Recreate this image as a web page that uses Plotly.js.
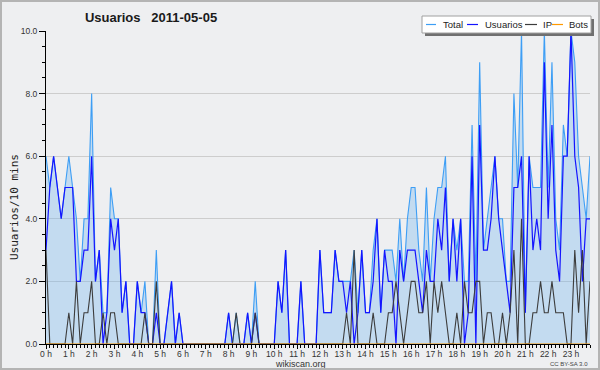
<!DOCTYPE html>
<html><head><meta charset="utf-8">
<script src="https://cdn.plot.ly/plotly-3.0.1.min.js"></script>
<style>
html,body{margin:0;padding:0;background:#eeeff1;}
#wrap{position:relative;width:600px;height:370px;}
#chart{width:600px;height:370px;}
#frame{position:absolute;left:0;top:0;width:600px;height:370px;box-sizing:border-box;border:2px solid #b4b4b4;pointer-events:none;}
</style></head><body>
<div id="wrap"><div id="chart"></div><div id="frame"></div></div>
<script>
// 10-minute slots over the day (index 0..143)
const usuarios = [
  3,5,6,5,4,5,5,5,2,2,3,3,
  6,2,3,0,1,4,3,4,1,2,0,0,
  2,1,1,0,0,1,0,0,1,2,0,1,
  0,0,0,0,0,0,0,0,0,0,0,0,
  1,0,0,0,0,1,0,1,0,0,0,0,
  0,2,1,3,0,0,0,2,0,0,0,0,
  3,1,1,1,3,2,2,1,2,0,1,3,
  1,1,2,4,1,3,2,2,0,3,2,3,
  3,3,2,1,3,2,2,4,3,5,2,4,
  2,4,0,1,6,0,7,3,3,4,6,4,
  3,2,1,5,5,6,1,6,3,4,3,9,
  4,7,3,2,6,6,10,6,5,2,4,4
];
const ip = [
  3,0,0,0,0,0,1,0,2,0,1,1,
  2,0,0,1,0,1,1,0,0,0,0,0,
  0,0,1,0,0,2,0,0,0,0,0,0,
  0,0,0,0,0,0,0,0,0,0,0,0,
  0,0,1,0,0,0,0,1,0,0,0,0,
  0,0,0,0,0,0,0,0,0,0,0,0,
  0,0,0,0,0,0,0,1,0,3,0,0,
  0,0,1,0,0,0,1,1,2,1,0,1,
  2,2,1,1,2,0,2,1,2,1,0,0,
  1,0,2,1,1,2,2,0,1,1,0,0,
  1,0,1,3,0,4,0,0,1,1,2,1,
  1,2,1,1,1,0,0,3,1,3,0,2
];
const total = [
  6,5,6,5,4,5,6,5,4,2,4,4,
  8,2,3,1,1,5,4,4,1,2,0,0,
  2,1,2,0,0,3,0,0,1,2,0,1,
  0,0,0,0,0,0,0,0,0,0,0,0,
  1,0,1,0,0,1,0,2,0,0,0,0,
  0,2,1,3,0,0,0,2,0,0,0,0,
  3,1,1,1,3,2,2,2,2,3,1,3,
  1,1,3,4,1,3,3,3,2,4,2,4,
  5,5,3,2,5,2,4,5,5,6,2,4,
  3,4,2,2,7,2,9,3,4,5,6,4,
  4,2,2,8,5,10,1,6,5,5,5,10,
  5,9,4,3,7,6,10,9,6,5,4,6
];
const bots = [
  0,0,0,0,0,0,0,0,0,0,0,0, 0,0,0,0,0,0,0,0,0,0,0,0,
  0,0,0,0,0,0,0,0,0,0,0,0, 0,0,0,0,0,0,0,0,0,0,0,0,
  0,0,0,0,0,0,0,0,0,0,0,0, 0,0,0,0,0,0,0,0,0,0,0,0,
  0,0,0,0,0,0,0,0,0,0,0,0, 0,0,0,0,0,0,0,0,0,0,0,0,
  0,0,0,0,0,0,0,0,0,0,0,0, 0,0,0,0,0,0,0,0,0,0,0,0,
  0,0,0,0,0,0,0,0,0,0,0,0, 0,0,0,0,0,0,0,0,0,0,0,0
];
const hourVals = [0,1,2,3,4,5,6,7,8,9,10,11,12,13,14,15,16,17,18,19,20,21,22,23];
const hourLabels = ["0 h","1 h","2 h","3 h","4 h","5 h","6 h","7 h","8 h","9 h","10 h","11 h",
  "12 h","13 h","14 h","15 h","16 h","17 h","18 h","19 h","20 h","21 h","22 h","23 h"];
const seriesNames = ["Total","Usuarios","IP","Bots"];
const seriesColors = ["#3d9ef5","#1414ff","#3c3c3c","#ff9900"];

const slotsPerHour = 6;
const hours = usuarios.map((_, i) => i / slotsPerHour);

// pixel -> paper helpers for decorations
const PL = 46, PR = 590, PT = 31, PB = 344;
const px = x => (x - PL) / (PR - PL);
const py = y => (PB - y) / (PB - PT);

const traces = [
  {x: hours, y: total, name: seriesNames[0], type: 'scatter', mode: 'lines',
   line: {color: seriesColors[0], width: 1.1}, fill: 'tozeroy', fillcolor: 'rgba(105,176,238,0.32)'},
  {x: hours, y: usuarios, name: seriesNames[1], type: 'scatter', mode: 'lines',
   line: {color: seriesColors[1], width: 1.2}},
  {x: hours, y: ip, name: seriesNames[2], type: 'scatter', mode: 'lines',
   line: {color: seriesColors[2], width: 1.1}},
  {x: hours, y: bots, name: seriesNames[3], type: 'scatter', mode: 'lines',
   line: {color: seriesColors[3], width: 1.1}}
];

const legendLines = [[426,436],[467,478],[525,537],[552,563]];
const legendTextX = [441,483,541,567];
const shapes = [
  {type:'rect', xref:'paper', yref:'paper', x0:px(425), x1:px(594), y0:py(36), y1:py(19),
   fillcolor:'#707070', line:{width:0}},
  {type:'rect', xref:'paper', yref:'paper', x0:px(422), x1:px(591), y0:py(33), y1:py(16),
   fillcolor:'#ffffff', line:{color:'#a0a0a0', width:1}}
];
const annotations = [
  {text:'Usuarios/10 mins', xref:'paper', yref:'paper', x:px(14), y:py(207), textangle:-90,
   showarrow:false, xanchor:'center', yanchor:'middle',
   font:{family:'DejaVu Sans Mono, monospace', size:11, color:'#222'}},
  {text:'wikiscan.org', xref:'paper', yref:'paper', x:px(300), y:py(363.5), showarrow:false,
   xanchor:'center', yanchor:'middle', font:{family:'Liberation Sans, Arial, sans-serif', size:9, color:'#333'}},
  {text:'CC BY-SA 3.0', xref:'paper', yref:'paper', x:px(590), y:py(363.5), showarrow:false,
   xanchor:'right', yanchor:'middle', font:{family:'Liberation Sans, Arial, sans-serif', size:6, color:'#444'}}
];
seriesNames.forEach((n, k) => {
  shapes.push({type:'line', xref:'paper', yref:'paper', x0:px(legendLines[k][0]), x1:px(legendLines[k][1]),
    y0:py(24.5), y1:py(24.5), line:{color:seriesColors[k], width:1.2}});
  annotations.push({text:n, xref:'paper', yref:'paper', x:px(legendTextX[k]), y:py(24.5), showarrow:false,
    xanchor:'left', yanchor:'middle', font:{family:'Liberation Sans, Arial, sans-serif', size:9.5, color:'#222'}});
});

const layout = {
  width: 600, height: 370,
  margin: {l: PL, r: 600 - PR, t: PT, b: 370 - PB},
  paper_bgcolor: '#eeeff1', plot_bgcolor: '#eeeff1',
  showlegend: false,
  font: {family: 'Liberation Sans, Arial, sans-serif', size: 9, color: '#333'},
  title: {text: '<b>Usuarios\u00a0\u00a0 2011-05-05</b>', xref: 'container', yref: 'container',
    x: 151/600, xanchor: 'center', y: 1 - 17/370, yanchor: 'middle',
    font: {family: 'Liberation Sans, Arial, sans-serif', size: 13, color: '#1a1a1a'}},
  xaxis: {range: [0, 143/6], tickmode: 'array', tickvals: hourVals, ticktext: hourLabels,
    ticks: 'outside', ticklen: 4, tickwidth: 1, tickcolor: '#000', ticklabelstandoff: -2,
    showline: true, linecolor: '#000', linewidth: 1, showgrid: false, zeroline: false,
    tickfont: {size: 8.5, color: '#333'}, layer: 'above traces', fixedrange: true,
    minor: {tickmode: 'linear', tick0: 0, dtick: 1/6, ticks: 'outside', ticklen: 3, tickcolor: '#000', showgrid: false}},
  yaxis: {range: [0, 10], tickmode: 'linear', tick0: 0, dtick: 2, tickformat: '.1f',
    ticks: 'outside', ticklen: 6, tickcolor: '#000', showline: true, linecolor: '#000', linewidth: 1,
    showgrid: true, gridcolor: '#cdcdcd', gridwidth: 1, zeroline: false,
    tickfont: {size: 8.5, color: '#333'}, layer: 'above traces', fixedrange: true,
    minor: {tickmode: 'linear', tick0: 0, dtick: 0.5, ticks: 'outside', ticklen: 3, tickcolor: '#000', showgrid: false}},
  shapes: shapes,
  annotations: annotations
};
Plotly.newPlot('chart', traces, layout, {displayModeBar: false, staticPlot: true});
</script>
</body></html>
